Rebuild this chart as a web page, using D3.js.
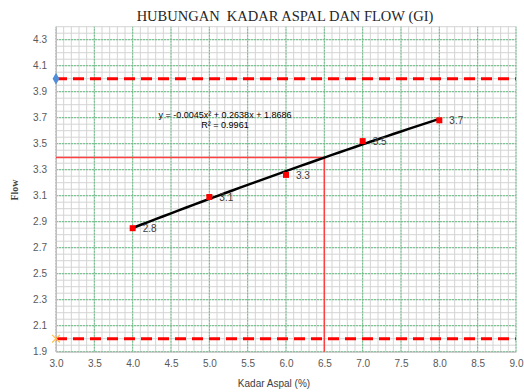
<!DOCTYPE html>
<html>
<head>
<meta charset="utf-8">
<script src="https://cdn.jsdelivr.net/npm/d3@7"></script>
<style>
  body { margin: 0; background: #fff; }
  svg { display: block; }
</style>
</head>
<body>
<svg width="524" height="392"></svg>
<script>
// measured points (kadar aspal vs flow)
const kadarAspal = [4, 5, 6, 7, 8];
const flowValues = [2.85, 3.09, 3.26, 3.52, 3.68];
const pointLabels = ['2.8', '3.1', '3.3', '3.5', '3.7'];

// polynomial trendline coefficients (a x^2 + b x + c) as printed on the chart
const trendCoef = [-0.0045, 0.2638, 1.8686];
const trendText = ['y = -0.0045x\u00b2  + 0.2638x  + 1.8686', 'R\u00b2 = 0.9961'];

// spec limits and the read-off value
const upperLimit = 4.0;
const lowerLimit = 2.0;
const optimumKadar = 6.5;

const xTicks = [3.0, 3.5, 4.0, 4.5, 5.0, 5.5, 6.0, 6.5, 7.0, 7.5, 8.0, 8.5, 9.0];
const yTicks = [1.9, 2.1, 2.3, 2.5, 2.7, 2.9, 3.1, 3.3, 3.5, 3.7, 3.9, 4.1, 4.3];

const d3 = window.d3;
const margin = {top: 26.7, right: 8, bottom: 40.3, left: 56};
const width = 524;
const height = 392;

const x = d3.scaleLinear().domain([3, 9]).range([margin.left, width - margin.right]);
const y = d3.scaleLinear().domain([1.9, 4.4]).range([height - margin.bottom, margin.top]);

const svg = d3.select('svg');

// minor grid (grey)
const minorX = d3.range(30, 91).map((v) => v / 10);
const minorY = d3.range(38, 89).map((v) => v / 20);
const grid = svg.append('g');
grid.selectAll('line.mx').data(minorX).enter().append('line')
    .attr('x1', (d) => x(d)).attr('x2', (d) => x(d))
    .attr('y1', y(1.9)).attr('y2', y(4.4))
    .attr('stroke', '#d4d4d4').attr('stroke-width', 1);
grid.selectAll('line.my').data(minorY).enter().append('line')
    .attr('y1', (d) => y(d)).attr('y2', (d) => y(d))
    .attr('x1', x(3)).attr('x2', x(9))
    .attr('stroke', '#d4d4d4').attr('stroke-width', 1);

// major grid (green dotted)
grid.selectAll('line.gx').data(xTicks).enter().append('line')
    .attr('x1', (d) => x(d)).attr('x2', (d) => x(d))
    .attr('y1', y(1.9)).attr('y2', y(4.4))
    .attr('stroke', '#66bf84').attr('stroke-width', 1)
    .attr('stroke-dasharray', '2,1');
grid.selectAll('line.gy').data(yTicks).enter().append('line')
    .attr('y1', (d) => y(d)).attr('y2', (d) => y(d))
    .attr('x1', x(3)).attr('x2', x(9))
    .attr('stroke', '#66bf84').attr('stroke-width', 1)
    .attr('stroke-dasharray', '2,1');

// axes
const xAxis = d3.axisBottom(x).tickValues(xTicks).tickFormat(d3.format('.1f'))
    .tickSize(0).tickPadding(8);
const yAxis = d3.axisLeft(y).tickValues(yTicks).tickFormat(d3.format('.1f'))
    .tickSize(0).tickPadding(9);
svg.append('g').attr('transform', `translate(0,${y(1.9)})`).call(xAxis)
    .call((g) => g.select('.domain').attr('stroke', '#bfbfbf'));
svg.append('g').attr('transform', `translate(${x(3)},0)`).call(yAxis)
    .call((g) => g.select('.domain').attr('stroke', '#bfbfbf'));
svg.selectAll('.tick text')
    .attr('font-family', 'Liberation Sans, Arial, sans-serif')
    .attr('font-size', 10).attr('fill', '#595959');

// limit lines
[upperLimit, lowerLimit].forEach((v) => {
  svg.append('line')
      .attr('x1', x(3)).attr('x2', x(9))
      .attr('y1', y(v)).attr('y2', y(v))
      .attr('stroke', '#ff0000').attr('stroke-width', 3)
      .attr('stroke-dasharray', '11,6');
});
// markers at the start of the limit lines
svg.append('path')
    .attr('d', d3.symbol(d3.symbolDiamond, 40)())
    .attr('transform', `translate(${x(3)},${y(upperLimit)})`)
    .attr('fill', '#4f8fd9');
svg.append('path')
    .attr('d', d3.symbol(d3.symbolX, 40)())
    .attr('transform', `translate(${x(3)},${y(lowerLimit)})`)
    .attr('fill', 'none').attr('stroke', '#ffc04d').attr('stroke-width', 1.2);

// trendline
const poly = (v) => trendCoef[0] * v * v + trendCoef[1] * v + trendCoef[2];
const xs = d3.range(0, 41).map((i) => 4 + i * 0.1);
const line = d3.line().x((d) => x(d)).y((d) => y(poly(d)));

// read-off lines at optimum
const readY = poly(optimumKadar);
svg.append('path')
    .attr('d', `M${x(3)},${y(readY)}H${x(optimumKadar)}V${y(1.9)}`)
    .attr('fill', 'none').attr('stroke', '#ff4040').attr('stroke-width', 1.5);

svg.append('path').datum(xs)
    .attr('d', line)
    .attr('fill', 'none').attr('stroke', '#000').attr('stroke-width', 2.5);

// data points
svg.append('g').selectAll('rect').data(kadarAspal).enter().append('rect')
    .attr('x', (d) => x(d) - 3).attr('y', (d, i) => y(flowValues[i]) - 3)
    .attr('width', 6).attr('height', 6).attr('fill', '#ff0000');
svg.append('g').selectAll('text').data(kadarAspal).enter().append('text')
    .attr('x', (d) => x(d) + 10).attr('y', (d, i) => y(flowValues[i]) + 4)
    .attr('font-family', 'Liberation Sans, Arial, sans-serif')
    .attr('font-size', 10).attr('fill', '#404040')
    .text((d, i) => pointLabels[i]);

// trendline equation
svg.append('g').selectAll('text').data(trendText).enter().append('text')
    .attr('x', 225).attr('y', (d, i) => 118 + i * 10)
    .attr('text-anchor', 'middle')
    .attr('font-family', 'Liberation Sans, Arial, sans-serif')
    .attr('font-size', 9).attr('fill', '#000')
    .text((d) => d);

// titles
svg.append('text')
    .attr('x', 285).attr('y', 21)
    .attr('text-anchor', 'middle')
    .attr('font-family', 'Liberation Serif, Times New Roman, serif')
    .attr('font-size', 14.5).attr('fill', '#262626')
    .attr('xml:space', 'preserve')
    .text('HUBUNGAN  KADAR ASPAL DAN FLOW (GI)');
svg.append('text')
    .attr('x', 274).attr('y', 387)
    .attr('text-anchor', 'middle')
    .attr('font-family', 'Liberation Sans, Arial, sans-serif')
    .attr('font-size', 10).attr('fill', '#404040')
    .text('Kadar Aspal (%)');
svg.append('text')
    .attr('transform', 'translate(18,190) rotate(-90)')
    .attr('text-anchor', 'middle')
    .attr('font-family', 'Liberation Serif, Times New Roman, serif')
    .attr('font-size', 10).attr('font-weight', 'bold').attr('fill', '#404040')
    .text('Flow');
</script>
</body>
</html>
